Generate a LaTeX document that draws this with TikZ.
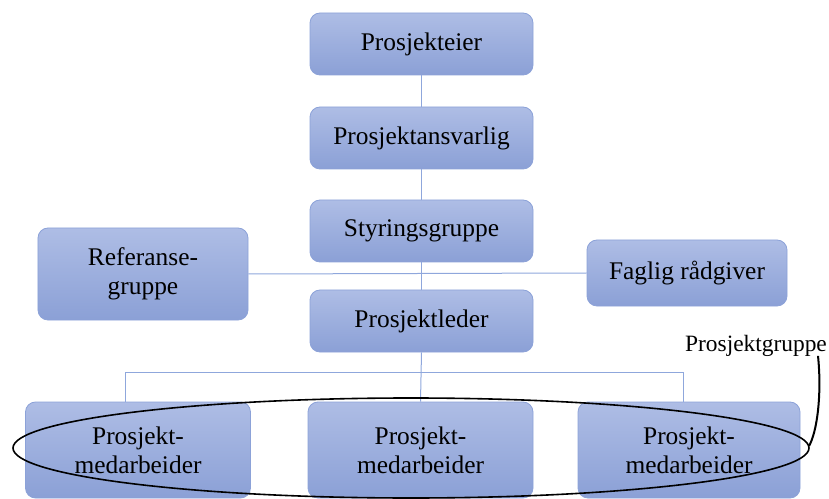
\documentclass[tikz,border=0pt]{standalone}
\usepackage{fontspec}
\setmainfont{Liberation Serif}
\definecolor{boxtop}{HTML}{AEBDE5}
\definecolor{boxbot}{HTML}{8BA0D6}
\definecolor{boxline}{HTML}{8CA2D8}
\definecolor{conn}{HTML}{8FA7DC}
\begin{document}
\begin{tikzpicture}[x=1bp,y=-1bp,
  orgbox/.style={rectangle, rounded corners=10bp, draw=boxline, line width=0.8bp,
    top color=boxtop, bottom color=boxbot, align=center, inner sep=0pt,
    font=\fontsize{25.5}{29}\selectfont, text=black},
  conline/.style={draw=conn, line width=1bp}]
\useasboundingbox (0,0) rectangle (829,499);
\coordinate (junc) at (421,372);
\node[orgbox, minimum width=223bp, minimum height=62bp] (eier) at (421.5,44) {Prosjekteier};
\node[orgbox, minimum width=223bp, minimum height=62bp] (ansv) at (421.5,138) {Prosjektansvarlig};
\node[orgbox, minimum width=223bp, minimum height=62bp] (styr) at (421.5,231) {Styringsgruppe};
\node[orgbox, minimum width=210bp, minimum height=92bp] (ref) at (143,274) {Referanse-\\gruppe};
\node[orgbox, minimum width=200bp, minimum height=66bp] (fag) at (687,273) {Faglig rådgiver};
\node[orgbox, minimum width=223bp, minimum height=62bp] (leder) at (421.5,321) {Prosjektleder};
\node[orgbox, minimum width=225bp, minimum height=96bp] (m1) at (138,450) {Prosjekt-\\medarbeider};
\node[orgbox, minimum width=225bp, minimum height=96bp] (m2) at (420.5,450) {Prosjekt-\\medarbeider};
\node[orgbox, minimum width=222bp, minimum height=96bp] (m3) at (689,450) {Prosjekt-\\medarbeider};
\path[conline] (eier) -- (ansv);
\path[conline] (ansv) -- (styr);
\path[conline] (styr) -- (leder);
\path[conline] (ref.east) -- (fag.west);
\path[conline] (leder.south) -- (m2.north);
\path[conline] (junc) -| ([xshift=-13bp]m1.north);
\path[conline] (junc) -| ([xshift=-6bp]m3.north);
% Prosjektgruppe ellipse and label
\coordinate (ellc) at (411,448);
\draw[black, line width=1.6bp] (ellc) ellipse [x radius=398, y radius=50];
\node[font=\fontsize{23.5}{27}\selectfont, inner sep=0pt] (pg) at (756,346) {Prosjektgruppe};
\coordinate (ellr) at (809,446);
\draw[black, line width=2bp] ([xshift=62bp,yshift=1bp]pg.south) .. controls (822,395) and (817,432) .. (ellr);
\end{tikzpicture}
\end{document}
